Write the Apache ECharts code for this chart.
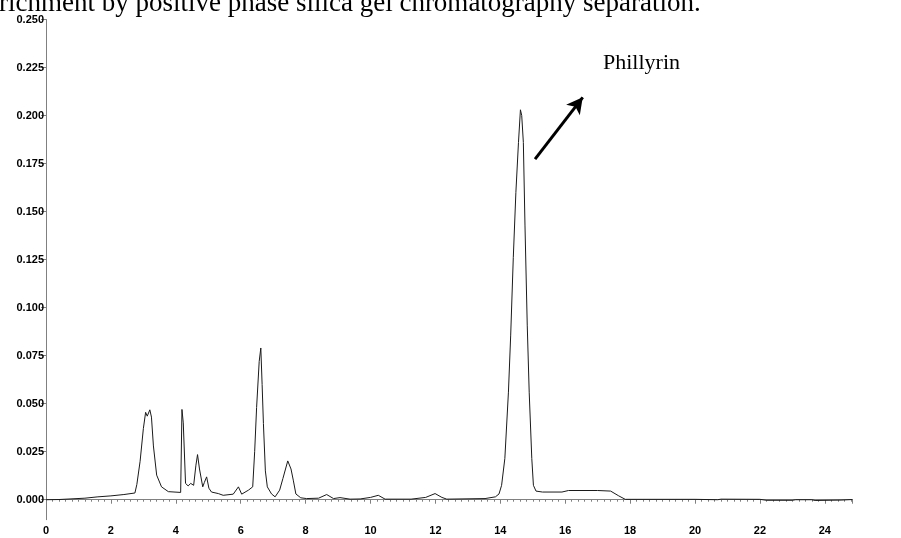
<!DOCTYPE html>
<html>
<head>
<meta charset="utf-8">
<script src="https://cdn.jsdelivr.net/npm/echarts@6/dist/echarts.min.js"></script>
<style>
  html, body { margin: 0; padding: 0; background: #fff; }
  #main { width: 901px; height: 538px; }
</style>
</head>
<body>
<div id="main"></div>
<script>
// retention time (min)
var times = [
  0, 0.4, 0.45, 1.2, 1.6, 2.0, 2.4, 2.74, 2.8, 2.9, 3.0, 3.07, 3.12, 3.2, 3.25, 3.31, 3.41, 3.56, 3.77,
  4.15, 4.19, 4.23, 4.3, 4.38, 4.46, 4.55, 4.62, 4.67, 4.73, 4.83, 4.88, 4.95, 5.02, 5.1, 5.31, 5.46,
  5.77, 5.93, 6.03, 6.24, 6.37, 6.43, 6.49, 6.57, 6.62, 6.66, 6.7, 6.76, 6.82, 6.95, 7.06, 7.2, 7.3,
  7.45, 7.55, 7.62, 7.7, 7.85, 8.03, 8.4, 8.65, 8.86, 9.06, 9.37, 9.68, 10.0, 10.24, 10.45, 11.25,
  11.27, 11.3, 11.7, 11.99, 12.2, 12.35, 13.53, 13.85, 13.96, 14.04, 14.14, 14.25, 14.32, 14.4, 14.48,
  14.56, 14.62, 14.66, 14.71, 14.76, 14.83, 14.89, 14.97, 15.02, 15.1, 15.3, 15.9, 16.1, 17.0, 17.4,
  17.65, 17.85, 20.0, 20.7, 20.8, 22.0, 22.2, 23.0, 23.1, 23.6, 23.7, 24.5, 24.85
];
// absorbance (AU)
var absorbance = [
  0, 0.0001, 0.0006, 0.0008, 0.0015, 0.002, 0.0027, 0.0035, 0.008, 0.02, 0.037, 0.0455, 0.0435, 0.0468, 0.043, 0.028, 0.0128, 0.0067, 0.0042,
  0.0038, 0.047, 0.040, 0.0085, 0.0072, 0.0085, 0.0075, 0.018, 0.0235, 0.016, 0.0067, 0.009, 0.0119, 0.006, 0.004, 0.0032, 0.0023,
  0.0029, 0.0067, 0.0029, 0.005, 0.0067, 0.025, 0.048, 0.072, 0.079, 0.060, 0.0397, 0.015, 0.0067, 0.003, 0.0015, 0.005, 0.011,
  0.0202, 0.016, 0.0102, 0.003, 0.001, 0.0006, 0.0008, 0.0027, 0.0006, 0.0011, 0.0003, 0.0004, 0.0012, 0.0023, 0.0003, 0.0003,
  0.0008, 0.0003, 0.0012, 0.0032, 0.0012, 0.0003, 0.0006, 0.0015, 0.003, 0.0075, 0.0215, 0.056, 0.0857, 0.126, 0.160,
  0.186, 0.203, 0.2, 0.186, 0.143, 0.0909, 0.056, 0.0215, 0.0075, 0.0045, 0.004, 0.004, 0.0048, 0.0048, 0.0045,
  0.002, 0.0002, 0.0002, 0, 0.0003, 0.0002, -0.0003, -0.0003, 0, 0, -0.0004, -0.0002, 0.0001
];
var yTicks = [0, 0.025, 0.05, 0.075, 0.1, 0.125, 0.15, 0.175, 0.2, 0.225, 0.25];
var xTicks = [0, 2, 4, 6, 8, 10, 12, 14, 16, 18, 20, 22, 24];
// arrow pointing away from the main peak
var arrowFrom = [15.07, 0.1773];
var arrowTo = [16.54, 0.2095];

var points = times.map(function (t, i) { return [t, absorbance[i]]; });

var chart = echarts.init(document.getElementById('main'));
chart.setOption({
  animation: false,
  grid: { left: 46, right: 48.6, top: 19.5, bottom: 18.3 },
  xAxis: {
    type: 'value', min: 0, max: 24.85, interval: 2,
    axisLine: { lineStyle: { color: '#808080', width: 1 } },
    axisTick: { length: 4, lineStyle: { color: '#808080' } },
    minorTick: { show: true, splitNumber: 10, length: 2, lineStyle: { color: '#808080' } },
    splitLine: { show: false },
    axisLabel: {
      margin: 6, color: '#000', fontFamily: 'Liberation Sans, Arial', fontWeight: 'bold', fontSize: 11,
      formatter: function (v) { return xTicks.indexOf(v) >= 0 ? String(v) : ''; }
    }
  },
  yAxis: {
    type: 'value', min: -0.0104, max: 0.25,
    axisLine: { show: true, lineStyle: { color: '#808080', width: 1 } },
    axisTick: { show: true, length: 5, customValues: yTicks, lineStyle: { color: '#808080' } },
    splitLine: { show: false },
    axisLabel: {
      margin: 2, color: '#000', fontFamily: 'Liberation Sans, Arial', fontWeight: 'bold', fontSize: 11,
      customValues: yTicks,
      formatter: function (v) { return v.toFixed(3); }
    }
  },
  graphic: [
    { type: 'text', left: -1, top: -10,
      style: { text: 'richment by positive phase silica gel chromatography separation.',
               font: '27px "Liberation Serif", "Times New Roman", serif', fill: '#000' } },
    { type: 'text', left: 603, top: 52,
      style: { text: 'Phillyrin', font: '22px "Liberation Serif", "Times New Roman", serif', fill: '#000' } }
  ],
  series: [{
    type: 'line',
    data: points,
    showSymbol: false,
    lineStyle: { color: '#1a1a1a', width: 1 },
    markLine: {
      silent: true,
      symbol: ['none', 'arrow'],
      symbolSize: [13, 16],
      label: { show: false },
      lineStyle: { color: '#000', width: 3, type: 'solid' },
      data: [[{ coord: arrowFrom }, { coord: arrowTo }]]
    }
  }]
});
</script>
</body>
</html>
